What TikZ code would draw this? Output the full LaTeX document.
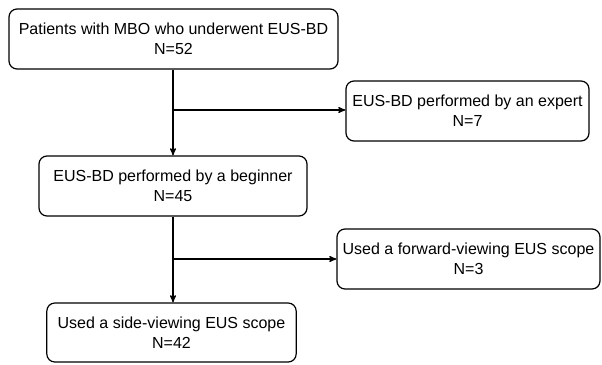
\documentclass[tikz,border=0pt]{standalone}
\usepackage{fontspec}
\setmainfont{Liberation Sans}
\usetikzlibrary{positioning, calc, arrows}

\begin{document}
\begin{tikzpicture}[x=0.75pt,y=-0.75pt,->,>=stealth',line width=0.9pt,
  stage/.style={draw, rounded corners=6pt, align=center, inner sep=0pt,
    minimum height=45pt, font=\fontsize{12}{15}\selectfont}]
  \useasboundingbox (0,0) rectangle (602,364);
  % main column
  \node[stage, minimum width=246.75pt] (all) at (173.5,39) {Patients with MBO who underwent EUS-BD\\N=52};
  \node[stage, minimum width=201pt] (beginner) at (173,186) {EUS-BD performed by a beginner\\N=45};
  \node[stage, minimum width=187pt, minimum height=44.25pt] (side) at (171.5,332.5) {Used a side-viewing EUS scope\\N=42};
  % excluded
  \node[stage, minimum width=182.25pt] (expert) at (467.5,111) {EUS-BD performed by an expert\\N=7};
  \node[stage, minimum width=197.25pt] (forward) at (468.5,259) {Used a forward-viewing EUS scope\\N=3};
  \coordinate (split1) at (173,110);
  \coordinate (split2) at (173,259);

  \draw (split1 |- all.south) -- (split1 |- beginner.north);
  \draw (split1) -- (split1 -| expert.west);
  \draw (split2 |- beginner.south) -- (split2 |- side.north);
  \draw (split2) -- (forward.west);
\end{tikzpicture}
\end{document}
